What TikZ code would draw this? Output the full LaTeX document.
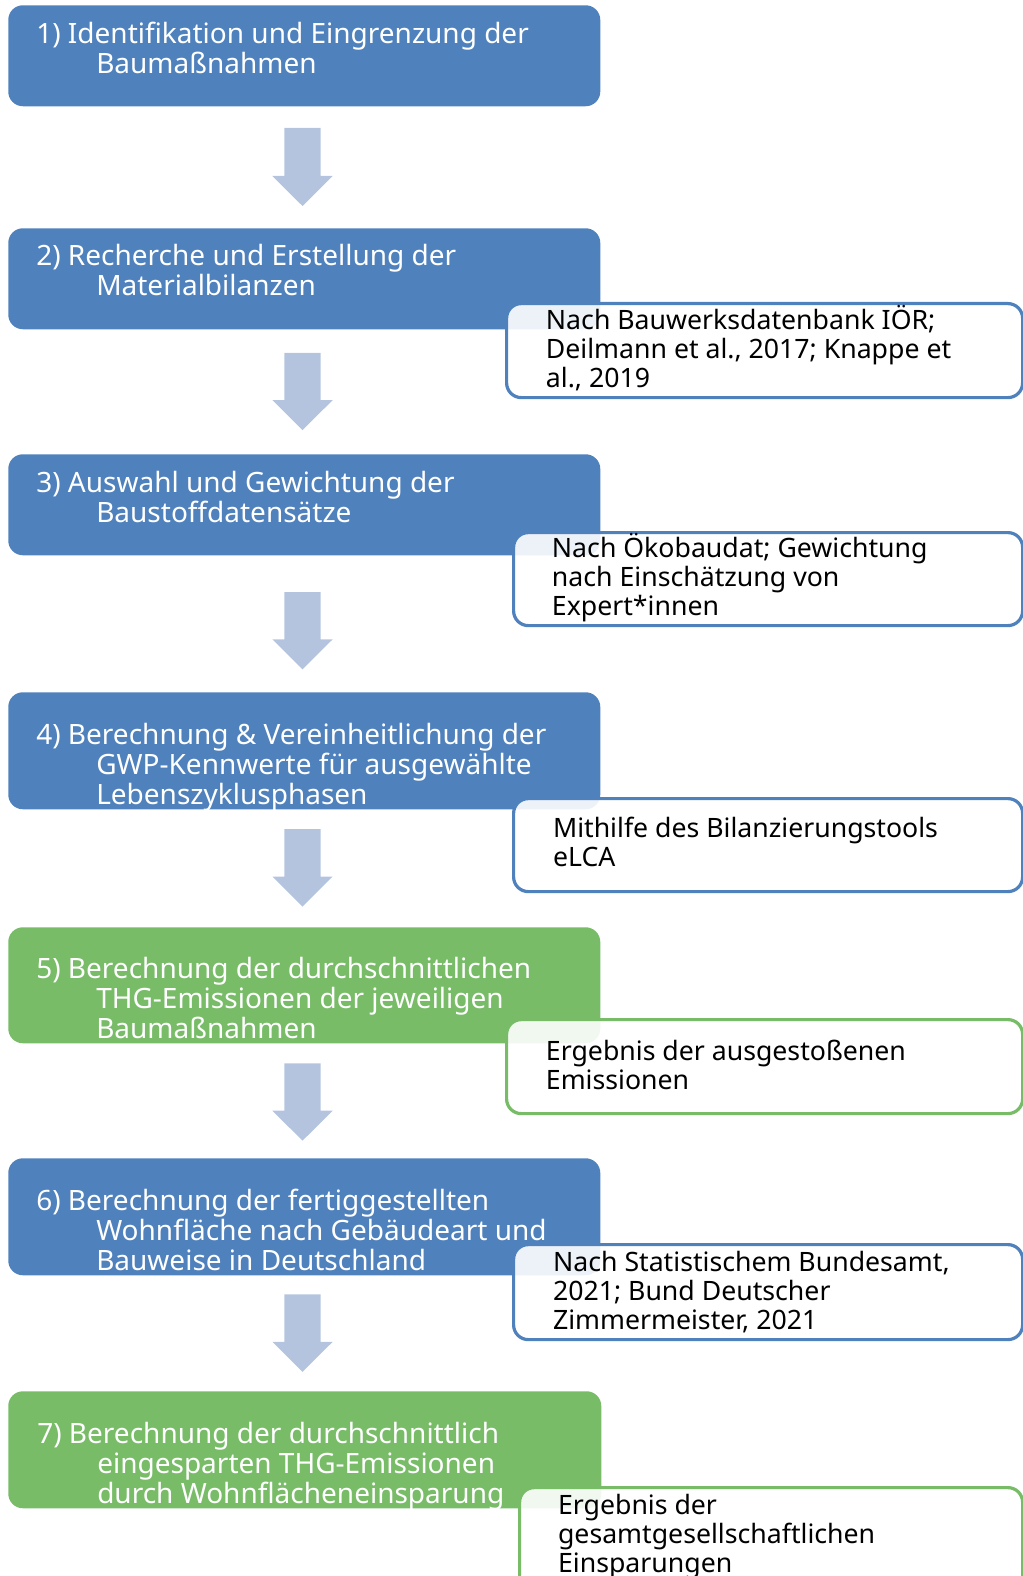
\documentclass[tikz,border=0pt]{standalone}
\usepackage{fontspec}
\setmainfont{Noto Sans}
\definecolor{mblue}{HTML}{4F81BD}
\definecolor{mgreen}{HTML}{78BC68}
\definecolor{marrow}{HTML}{B4C4DF}
\newcommand\hangtext[1]{\parbox[t]{560pt}{\raggedright\hangindent=45pt\hangafter=1 #1}}
\newcommand\notetext[1]{\parbox[t]{360pt}{\raggedright #1}}
\newcommand\blockarrow[2]{%
  \fill[marrow] (284.4,#1) -- (320.6,#1) -- (320.6,{#2-30}) -- (332.7,{#2-30}) -- (302.5,#2) -- (272.4,{#2-30}) -- (284.4,{#2-30}) -- cycle;}
\begin{document}
\begin{tikzpicture}[x=0.75pt,y=-0.75pt,
  mainbox/.style={rounded corners=11pt, anchor=north west, inner sep=0pt, draw=none, minimum width={592*0.75pt}},
  notebox/.style={rounded corners=11pt, anchor=north west, inner sep=0pt, fill=white, fill opacity=0.9, line width=2.4pt, minimum width={516*0.75pt}},
  maintext/.style={anchor=base west, inner sep=0pt, text=white, font=\fontsize{21}{22.5}\selectfont},
  notetxt/.style={anchor=base west, inner sep=0pt, text=black, font=\fontsize{20}{21.8}\selectfont}]
\useasboundingbox (0,0) rectangle (1022,1576);

% main boxes
\node[mainbox, fill=mblue, minimum height={101*0.75pt}] (b1) at (8,5) {};
\node[mainbox, fill=mblue, minimum height={101*0.75pt}] (b2) at (8,228) {};
\node[mainbox, fill=mblue, minimum height={101*0.75pt}] (b3) at (8,454) {};
\node[mainbox, fill=mblue, minimum height={117*0.75pt}] (b4) at (8,692) {};
\node[mainbox, fill=mgreen, minimum height={116*0.75pt}] (b5) at (8,927) {};
\node[mainbox, fill=mblue, minimum height={117*0.75pt}] (b6) at (8,1158) {};
\node[mainbox, fill=mgreen, minimum height={117*0.75pt}, minimum width={593*0.75pt}] (b7) at (8,1391) {};

% main texts
\node[maintext] (t1) at (36,43.3) {\hangtext{1) Identifikation und Eingrenzung der\newline Baumaßnahmen}};
\node[maintext] (t2) at (36,265.3) {\hangtext{2) Recherche und Erstellung der\newline Materialbilanzen}};
\node[maintext] (t3) at (36,492.4) {\hangtext{3) Auswahl und Gewichtung der\newline Baustoffdatensätze}};
\node[maintext] (t4) at (36,744.7) {\hangtext{4) Berechnung \& Vereinheitlichung der\newline GWP-Kennwerte für ausgewählte\newline Lebenszyklusphasen}};
\node[maintext] (t5) at (36,978.8) {\hangtext{5) Berechnung der durchschnittlichen\newline THG-Emissionen der jeweiligen\newline Baumaßnahmen}};
\node[maintext] (t6) at (36,1210) {\hangtext{6) Berechnung der fertiggestellten\newline Wohnfläche nach Gebäudeart und\newline Bauweise in Deutschland}};
\node[maintext] (t7) at (37,1443) {\hangtext{7) Berechnung der durchschnittlich\newline eingesparten THG-Emissionen\newline durch Wohnflächeneinsparung}};

% arrows
\blockarrow{128}{206}
\blockarrow{352.8}{430.1}
\blockarrow{592}{669.3}
\blockarrow{829.1}{906.5}
\blockarrow{1063.3}{1140.7}
\blockarrow{1294.4}{1371.8}

% notes
\node[notebox, draw=mblue, minimum height={94*0.75pt}] (n2) at (505,302) {};
\node[notebox, draw=mblue, minimum height={93*0.75pt}, minimum width={509*0.75pt}] (n3) at (512,531) {};
\node[notebox, draw=mblue, minimum height={93*0.75pt}, minimum width={509*0.75pt}] (n4) at (512,797) {};
\node[notebox, draw=mgreen, minimum height={94*0.75pt}] (n5) at (505,1018) {};
\node[notebox, draw=mblue, minimum height={95*0.75pt}, minimum width={509*0.75pt}] (n6) at (512,1243) {};
\node[notebox, draw=mgreen, minimum height={104*0.75pt}, minimum width={503*0.75pt}] (n7) at (518,1486) {};

\node[notetxt] (m2) at (545.7,329.3) {\notetext{Nach Bauwerksdatenbank IÖR;\newline Deilmann et al., 2017; Knappe et\newline al., 2019}};
\node[notetxt] (m3) at (551.7,557.4) {\notetext{Nach Ökobaudat; Gewichtung\newline nach Einschätzung von\newline Expert*innen}};
\node[notetxt] (m4) at (552.8,837.8) {\notetext{Mithilfe des Bilanzierungstools\newline eLCA}};
\node[notetxt] (m5) at (545.7,1060.9) {\notetext{Ergebnis der ausgestoßenen\newline Emissionen}};
\node[notetxt] (m6) at (552.8,1271) {\notetext{Nach Statistischem Bundesamt,\newline 2021; Bund Deutscher\newline Zimmermeister, 2021}};
\node[notetxt] (m7) at (557.8,1514.2) {\notetext{Ergebnis der\newline gesamtgesellschaftlichen\newline Einsparungen}};
\end{tikzpicture}
\end{document}
